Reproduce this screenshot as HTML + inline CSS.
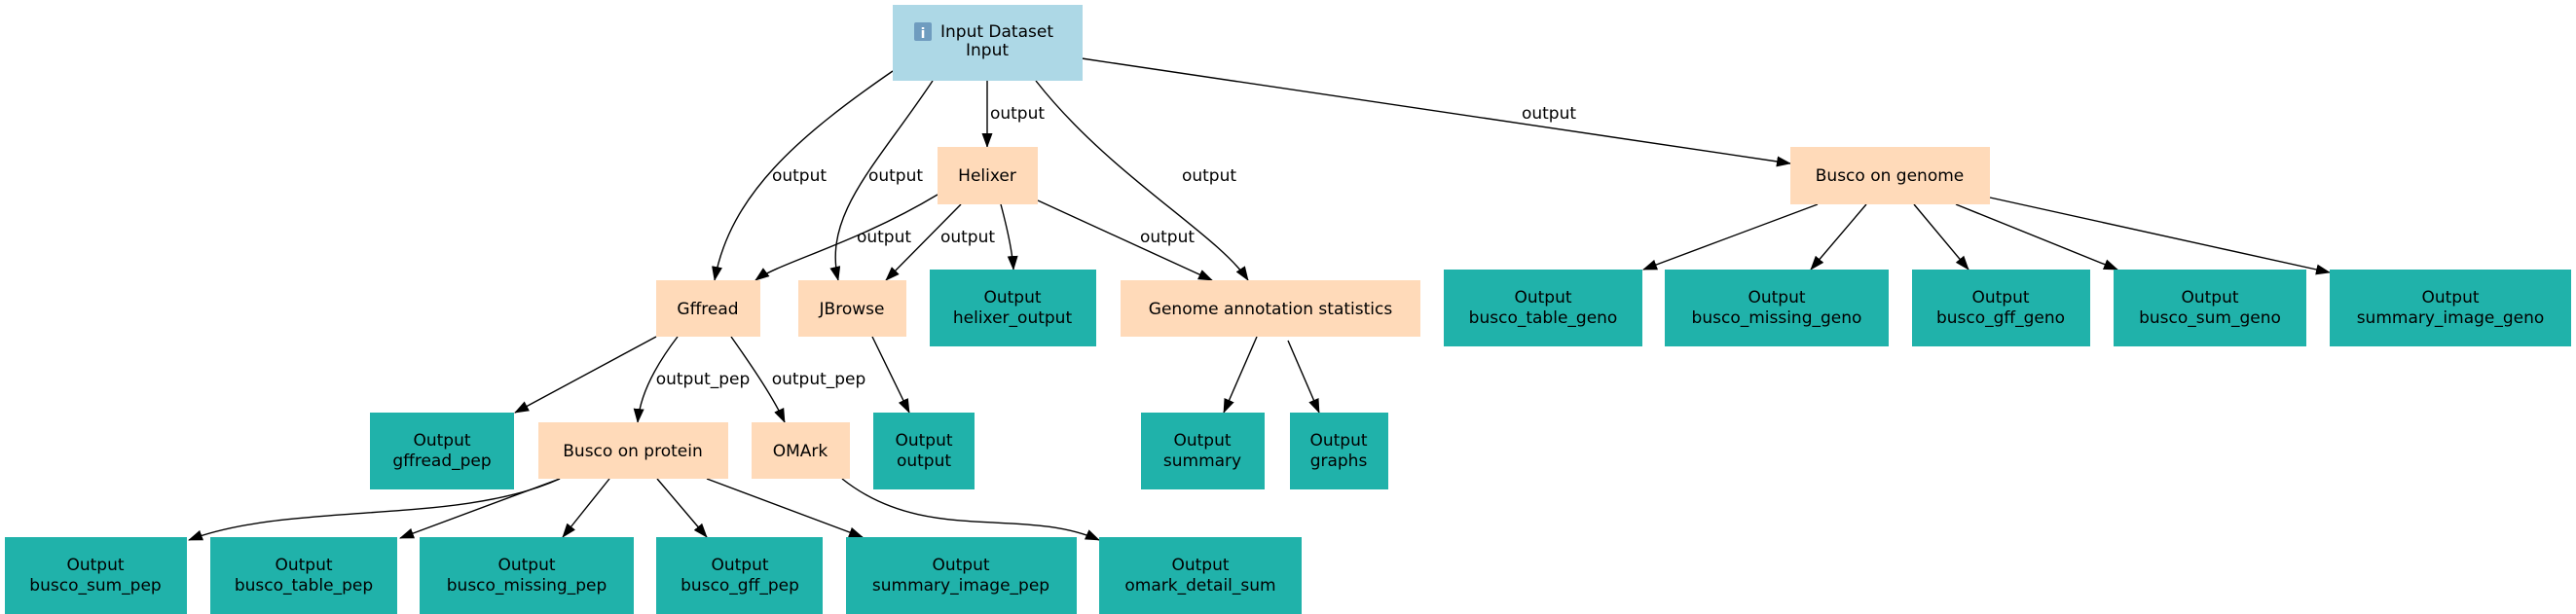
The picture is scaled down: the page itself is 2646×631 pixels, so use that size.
<!DOCTYPE html>
<html><head><meta charset="utf-8"><style>
html,body{margin:0;padding:0;background:#fff;width:2646px;height:631px;overflow:hidden}
svg{display:block}
text{font-family:"DejaVu Sans","Liberation Sans",sans-serif;font-size:17px;fill:#000}
.o{fill:#20b2aa}.t{fill:#ffdab9}.i{fill:#add8e6}
path{fill:none;stroke:#000;stroke-width:1.4}
</style></head><body>
<svg width="2646" height="631" viewBox="0 0 2646 631" xmlns="http://www.w3.org/2000/svg">
<defs>
<marker id="b" markerWidth="15" markerHeight="11" refX="14" refY="5.5" orient="auto" markerUnits="userSpaceOnUse" viewBox="0 0 15 11"><path d="M0,0 L15,5.5 L0,11 z" style="fill:#000;stroke:none"/></marker></defs>
<g marker-end="url(#b)">
<path d="M917,73 C820,140 750,200 734,288"/>
<path d="M958,83 C900,170 845,220 861,288"/>
<path d="M1014,83 L1014,151"/>
<path d="M1064,83 C1140,180 1250,240 1282,288"/>
<path d="M1111,60 L1839,168"/>
<path d="M963,200 C880,250 800,270 776,288"/>
<path d="M987,210 L910,288"/>
<path d="M1028,210 C1036,240 1040,260 1041,277"/>
<path d="M1066,206 L1245,288"/>
<path d="M674,346 L529,424"/>
<path d="M696,346 C670,380 657,410 655,434"/>
<path d="M751,346 C775,380 795,410 806,434"/>
<path d="M896,346 L934,424"/>
<path d="M1291,346 L1257,424"/>
<path d="M1323,350 L1355,424"/>
<path d="M575,492 C470,540 300,515 194,555"/>
<path d="M575,492 L411,553"/>
<path d="M626,492 L578,552"/>
<path d="M675,492 L726,552"/>
<path d="M726,492 L886,552"/>
<path d="M865,492 C950,560 1050,520 1129,555"/>
<path d="M1867,210 L1688,277"/>
<path d="M1917,210 L1860,277"/>
<path d="M1966,210 L2022,277"/>
<path d="M2009,210 L2175,277"/>
<path d="M2044,203 L2393,280"/>
</g>
<rect class="i" x="917" y="5" width="195" height="78"/>
<rect x="939" y="23" width="18" height="19" fill="#6f9cbf" rx="2"/>
<text x="948" y="39" text-anchor="middle" style="fill:#fff;font-size:14px;font-weight:bold">i</text>
<text x="966" y="38">Input Dataset</text>
<text x="1014" y="57" text-anchor="middle">Input</text>
<rect class="t" x="963" y="151" width="103" height="59"/><text x="1014" y="186" text-anchor="middle">Helixer</text>
<rect class="t" x="1839" y="151" width="205" height="59"/><text x="1941" y="186" text-anchor="middle">Busco on genome</text>
<rect class="t" x="674" y="288" width="107" height="58"/><text x="727" y="323" text-anchor="middle">Gffread</text>
<rect class="t" x="820" y="288" width="111" height="58"/><text x="875" y="323" text-anchor="middle">JBrowse</text>
<rect class="t" x="1151" y="288" width="308" height="58"/><text x="1305" y="323" text-anchor="middle">Genome annotation statistics</text>
<rect class="t" x="553" y="434" width="195" height="58"/><text x="650" y="469" text-anchor="middle">Busco on protein</text>
<rect class="t" x="772" y="434" width="101" height="58"/><text x="822" y="469" text-anchor="middle">OMArk</text>
<g>
<rect class="o" x="955" y="277" width="171" height="79"/><text x="1040" y="311" text-anchor="middle">Output</text><text x="1040" y="332" text-anchor="middle">helixer_output</text>
<rect class="o" x="1483" y="277" width="204" height="79"/><text x="1585" y="311" text-anchor="middle">Output</text><text x="1585" y="332" text-anchor="middle">busco_table_geno</text>
<rect class="o" x="1710" y="277" width="230" height="79"/><text x="1825" y="311" text-anchor="middle">Output</text><text x="1825" y="332" text-anchor="middle">busco_missing_geno</text>
<rect class="o" x="1964" y="277" width="183" height="79"/><text x="2055" y="311" text-anchor="middle">Output</text><text x="2055" y="332" text-anchor="middle">busco_gff_geno</text>
<rect class="o" x="2171" y="277" width="198" height="79"/><text x="2270" y="311" text-anchor="middle">Output</text><text x="2270" y="332" text-anchor="middle">busco_sum_geno</text>
<rect class="o" x="2393" y="277" width="248" height="79"/><text x="2517" y="311" text-anchor="middle">Output</text><text x="2517" y="332" text-anchor="middle">summary_image_geno</text>
<rect class="o" x="380" y="424" width="148" height="79"/><text x="454" y="458" text-anchor="middle">Output</text><text x="454" y="479" text-anchor="middle">gffread_pep</text>
<rect class="o" x="897" y="424" width="104" height="79"/><text x="949" y="458" text-anchor="middle">Output</text><text x="949" y="479" text-anchor="middle">output</text>
<rect class="o" x="1172" y="424" width="127" height="79"/><text x="1235" y="458" text-anchor="middle">Output</text><text x="1235" y="479" text-anchor="middle">summary</text>
<rect class="o" x="1325" y="424" width="101" height="79"/><text x="1375" y="458" text-anchor="middle">Output</text><text x="1375" y="479" text-anchor="middle">graphs</text>
<rect class="o" x="5" y="552" width="187" height="79"/><text x="98" y="586" text-anchor="middle">Output</text><text x="98" y="607" text-anchor="middle">busco_sum_pep</text>
<rect class="o" x="216" y="552" width="192" height="79"/><text x="312" y="586" text-anchor="middle">Output</text><text x="312" y="607" text-anchor="middle">busco_table_pep</text>
<rect class="o" x="431" y="552" width="220" height="79"/><text x="541" y="586" text-anchor="middle">Output</text><text x="541" y="607" text-anchor="middle">busco_missing_pep</text>
<rect class="o" x="674" y="552" width="171" height="79"/><text x="760" y="586" text-anchor="middle">Output</text><text x="760" y="607" text-anchor="middle">busco_gff_pep</text>
<rect class="o" x="869" y="552" width="237" height="79"/><text x="987" y="586" text-anchor="middle">Output</text><text x="987" y="607" text-anchor="middle">summary_image_pep</text>
<rect class="o" x="1129" y="552" width="208" height="79"/><text x="1233" y="586" text-anchor="middle">Output</text><text x="1233" y="607" text-anchor="middle">omark_detail_sum</text>
</g>
<g>
<text x="821" y="186" text-anchor="middle">output</text>
<text x="920" y="186" text-anchor="middle">output</text>
<text x="1045" y="122" text-anchor="middle">output</text>
<text x="1242" y="186" text-anchor="middle">output</text>
<text x="1591" y="122" text-anchor="middle">output</text>
<text x="908" y="249" text-anchor="middle">output</text>
<text x="994" y="249" text-anchor="middle">output</text>
<text x="1199" y="249" text-anchor="middle">output</text>
<text x="722" y="395" text-anchor="middle">output_pep</text>
<text x="841" y="395" text-anchor="middle">output_pep</text>
</g>
</svg>
</body></html>
